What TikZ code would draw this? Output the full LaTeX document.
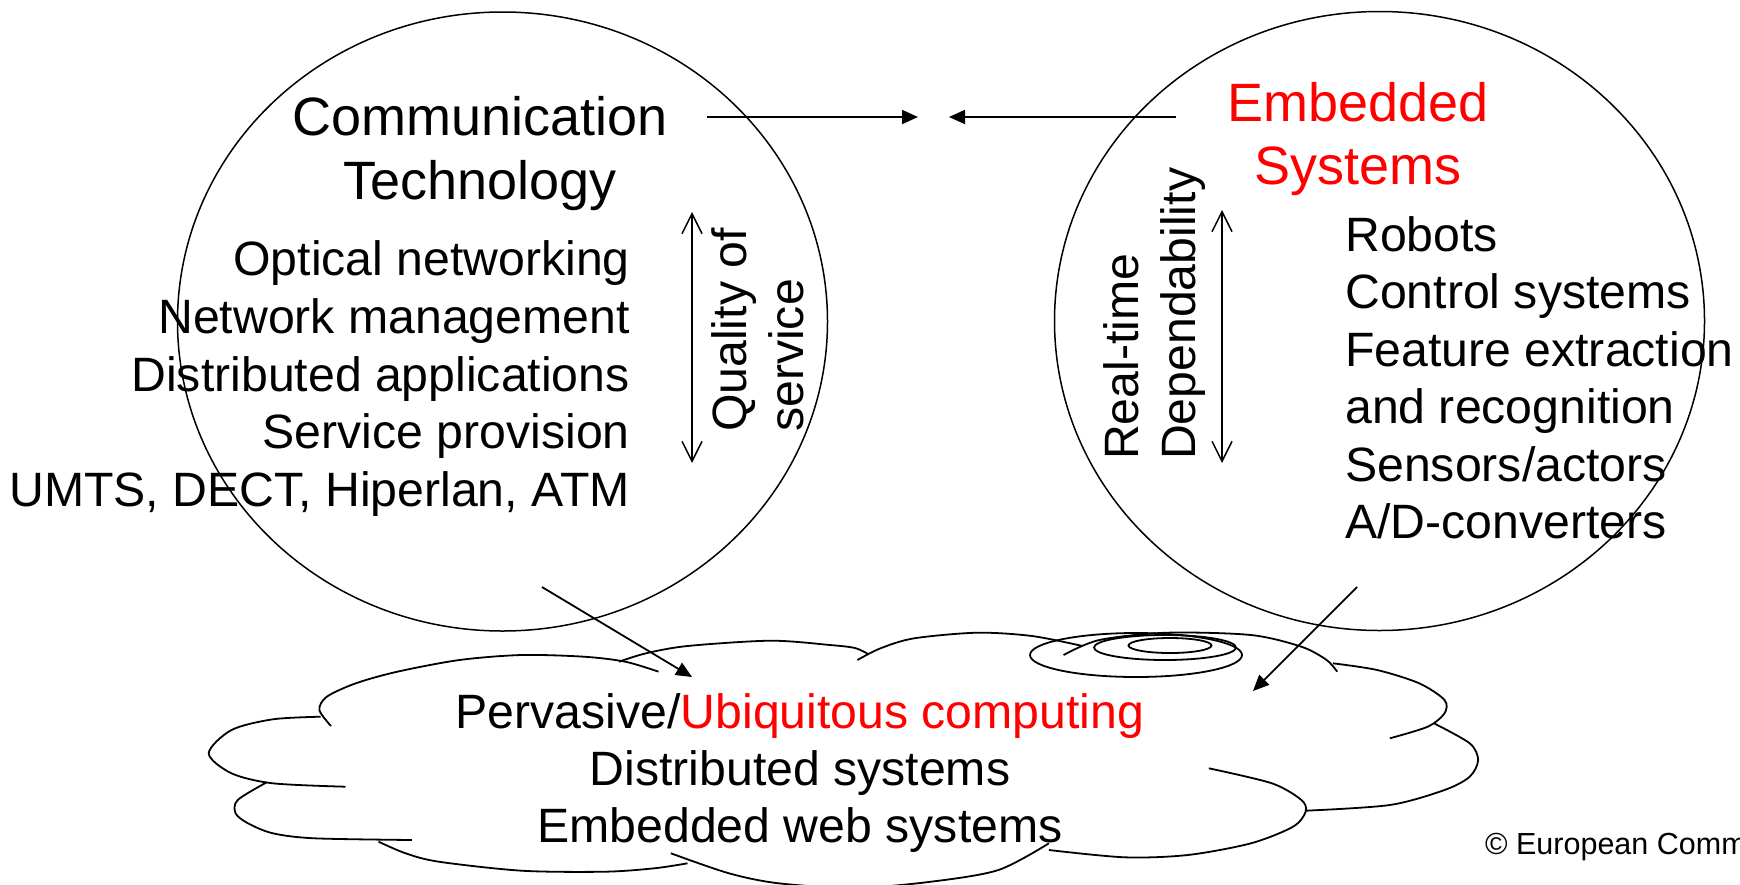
\documentclass[tikz,border=0pt]{standalone}
\usepackage{fontspec}
\setmainfont{Liberation Sans}
\usetikzlibrary{shapes.geometric,arrows.meta}
\tikzstyle{conn} = [draw, line width=1.8pt, -{Triangle[length=16pt,width=14pt]}]
\tikzstyle{twoway} = [draw, line width=1.5pt, {Straight Barb[length=20pt,width=20pt]}-{Straight Barb[length=20pt,width=20pt]}]

\begin{document}
\begin{tikzpicture}[
	x=1pt, y=-1pt,
	area/.style={
		ellipse,
		draw=black,
		line width=1.5pt,
		minimum width=650pt,
		minimum height=619pt,
		inner sep=0pt,
	},
	heading/.style={
		font=\fontsize{54}{64}\selectfont,
		inner sep=0pt,
		anchor=base,
	},
	item/.style={
		font=\fontsize{48.2}{57}\selectfont,
		inner sep=0pt,
	},
	turned/.style={
		item,
		rotate=90,
		anchor=base west,
	},
	puff/.style={
		line width=1.8pt,
	}
]
	\useasboundingbox (0,0) rectangle (1740,884);

	\node (comm) [area] at (502.5,321.5) {};
	\node (embed) [area] at (1379.5,321) {};

	\node (commA) [heading] at (480,135.4) {Communication};
	\node (commB) [heading] at (480,199) {Technology};
	\node (embA) [heading,text=red] at (1358,121) {Embedded};
	\node (embB) [heading,text=red] at (1358,184.5) {Systems};

	\foreach \txt [count=\i] in {Optical networking, Network management,
		Distributed applications, Service provision, {UMTS, DECT, Hiperlan, ATM}}
		\node (ct\i) [item,anchor=base east] at (630,{275.8+57.7*(\i-1)}) {\txt};
	\foreach \txt [count=\i] in {Robots, Control systems, Feature extraction,
		and recognition, Sensors/actors, A/D-converters}
		\node (es\i) [item,anchor=base west] at (1345,{251.5+57.4*(\i-1)}) {\txt};

	\node (qos1) [turned] at (746,432) {Quality of};
	\node (qos2) [turned] at (803,432) {service};
	\node (rt1) [turned] at (1138,460) {Real-time};
	\node (rt2) [turned] at (1195,460) {Dependability};

	\node (copy) [anchor=base west,inner sep=0pt,font=\fontsize{30.5}{36}\selectfont]
		at (1485,854) {© European Comm};

	% cloud
	\draw [puff] plot[smooth] coordinates {(331,726) (319.4,710) (326.8,696.7) (355.8,683.3)
		(397.3,671.7) (459.5,660) (521.7,655) (583.9,656.7) (625.3,661.7) (658.5,671.7)};
	\draw [puff] plot[smooth] coordinates {(320.6,716.7) (272.9,719.3) (231.5,730) (208.7,753.3)
		(231.5,773.3) (272.9,783.3) (345.5,786.7)};
	\draw [puff] plot[smooth] coordinates {(266.7,782.3) (237.7,800) (235.6,813.3) (248,823.3)
		(272.9,833.3) (314.4,838.3) (411.8,840)};
	\draw [puff] plot[smooth] coordinates {(378.6,841.7) (405.6,853.3) (438.8,861.7) (521.7,870.7)
		(604.6,871.7) (654.3,868.3) (687.5,863.3)};
	\draw [puff] plot[smooth] coordinates {(670.9,853.3) (729,873.3) (778.7,883.3) (855,888)
		(931,881.7) (998.4,870) (1048.9,843.3)};
	\draw [puff] plot[smooth] coordinates {(1208.8,768.3) (1271.9,783.3) (1301.4,800) (1305.6,811.7)
		(1293,826.7) (1250.9,843.3) (1187.7,855) (1124.6,857.3) (1048.9,850)};
	\draw [puff] plot[smooth] coordinates {(1433.9,723.3) (1469.7,743.3) (1478.1,760) (1469.7,776.7)
		(1444.5,790) (1389.8,805) (1305.6,810.7)};
	\draw [puff] plot[smooth] coordinates {(1332.9,663.3) (1377.1,670) (1419.2,683.3) (1444.5,700)
		(1444.5,713.3) (1427.6,726.7) (1389.8,738.3)};
	\draw [puff] plot[smooth] coordinates {(1063.6,655) (1099.4,640) (1166.7,632.7) (1250.9,635)
		(1301.4,646.7) (1326.6,660) (1337.2,671.7)};
	\draw [puff] plot[smooth] coordinates {(857.4,660) (880.5,648.3) (914.2,638.3) (977.3,632.7)
		(1032,636) (1082.5,646)};
	\draw [puff] plot[smooth] coordinates {(619.1,661.7) (646,653.3) (687.5,646) (770.4,640.7)
		(830,645) (855,648) (868,654)};
	\draw [puff] (1136,655) ellipse [x radius=106, y radius=22];
	\draw [puff] (1165,647.5) ellipse [x radius=71, y radius=12.5];
	\draw [puff] (1170,645.5) ellipse [x radius=41.5, y radius=7.5];

	\node (pc) [item,anchor=base] at (800,728.5) {Pervasive/\textcolor{red}{Ubiquitous computing}};
	\node (ds) [item,anchor=base] at (800,785.7) {Distributed systems};
	\node (ew) [item,anchor=base] at (800,842.9) {Embedded web systems};

	\coordinate (ctail) at (707,117);
	\coordinate (chead) at (918,117);
	\coordinate (etail) at (1176,117);
	\coordinate (ehead) at (949,117);
	\coordinate (qbot) at (692,463);
	\coordinate (qtop) at (692,212);
	\coordinate (dbot) at (1222,463);
	\coordinate (dtop) at (1222,210);
	\coordinate (cfoot) at (542,587);
	\coordinate (cin) at (692,677);
	\coordinate (efoot) at (1357,587);
	\coordinate (ein) at (1253,691);

	\draw [conn] (ctail) -- (chead);
	\draw [conn] (etail) -- (ehead);
	\draw [twoway] (qbot) -- (qtop);
	\draw [twoway] (dbot) -- (dtop);
	\draw [conn] (cfoot) -- (cin);
	\draw [conn] (efoot) -- (ein);
\end{tikzpicture}
\end{document}
